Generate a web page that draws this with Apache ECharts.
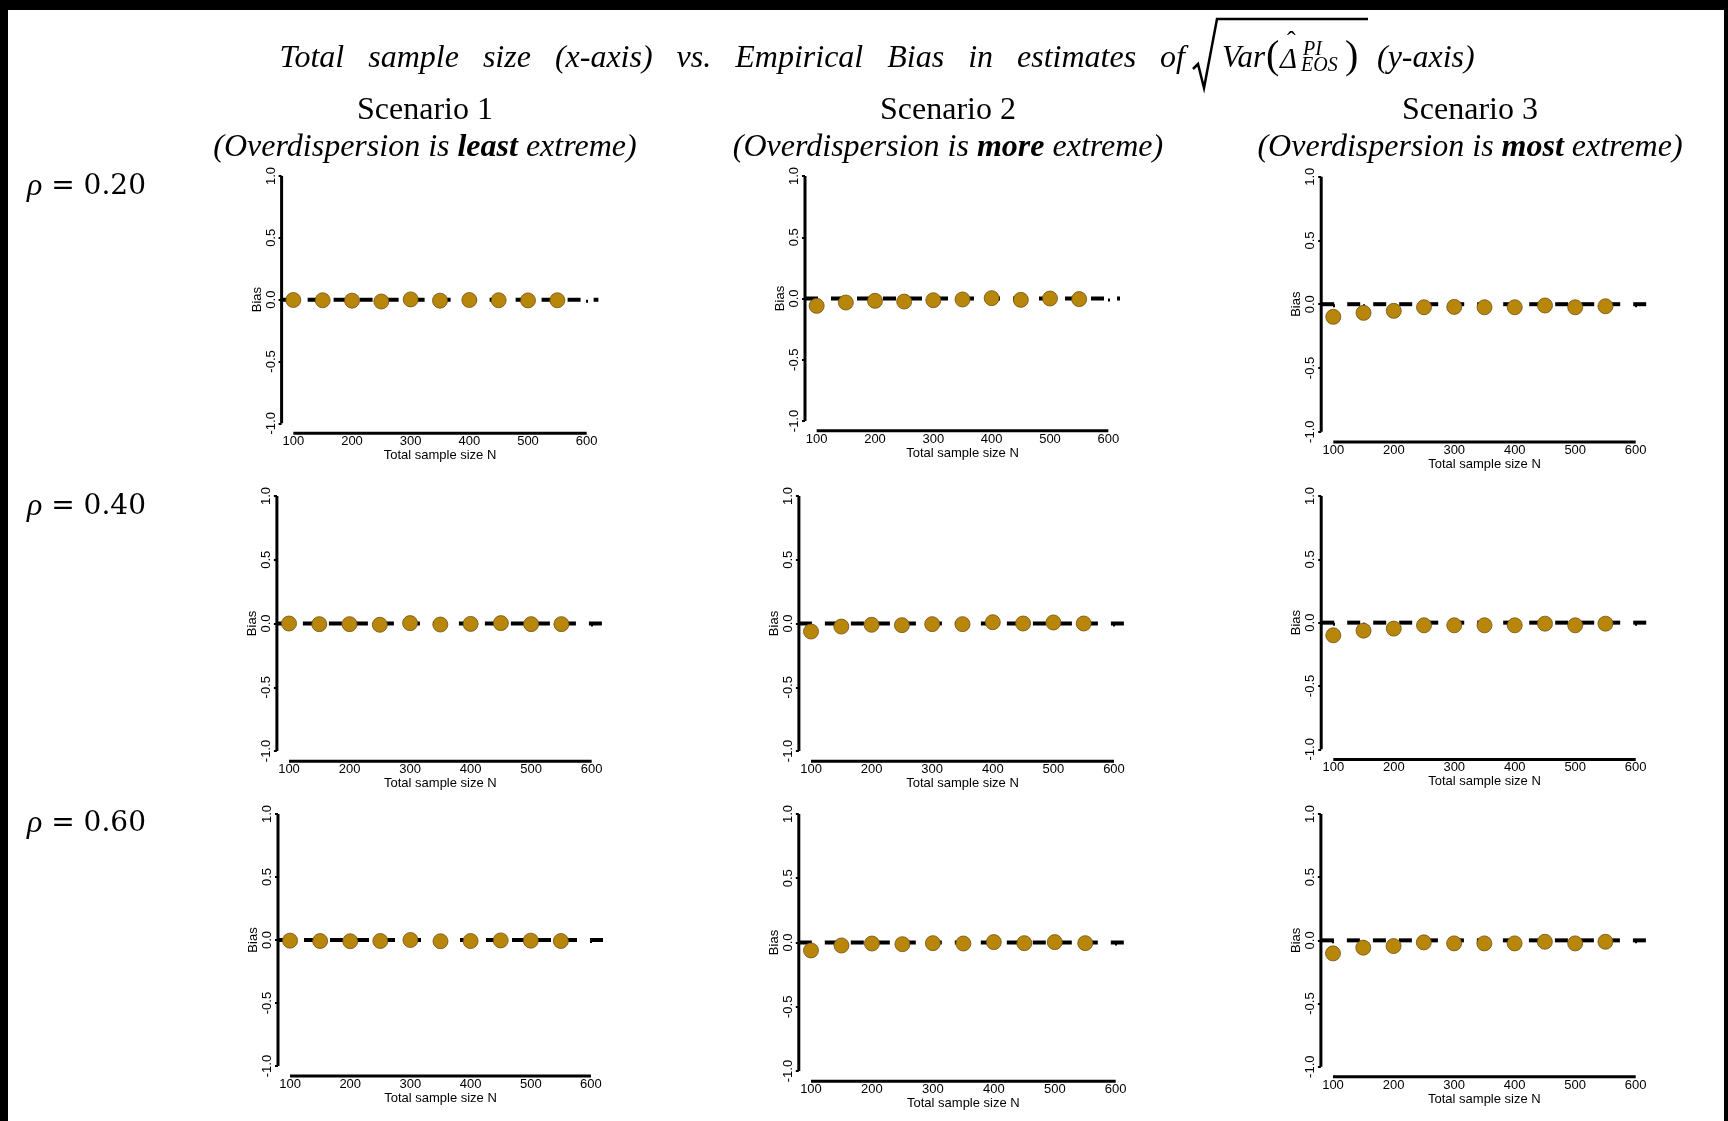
<!DOCTYPE html>
<html>
  <head>
    <meta charset="utf-8" />
    <title>Empirical Bias</title>
    <script src="https://cdn.jsdelivr.net/npm/echarts@6.0.0/dist/echarts.min.js"></script>
    <style>
      html, body { margin: 0; padding: 0; background: #fff; }
      #chart-container { width: 1728px; height: 1121px; }
    </style>
  </head>
  <body>
    <div id="chart-container"></div>
    <script type="text/javascript">
      // data
      const sampleSizes = [100, 150, 200, 250, 300, 350, 400, 450, 500, 550];
      const xTickValues = [100, 150, 200, 250, 300, 350, 400, 450, 500, 550, 600];
      const xLabelValues = [100, 200, 300, 400, 500, 600];
      const yTickValues = [-1, -0.5, 0, 0.5, 1];
      const rhoLabels = ['0.20', '0.40', '0.60'];
      const scenarioNames = ['Scenario 1', 'Scenario 2', 'Scenario 3'];
      const scenarioWords = ['least', 'more', 'most'];

      // rows = rho, columns = scenario
      const biasS1Rho20 = [-0.003, -0.005, -0.008, -0.015, 0.002, -0.008, -0.003, -0.005, -0.006, -0.005];
      const biasS2Rho20 = [-0.06, -0.033, -0.019, -0.025, -0.014, -0.008, 0.003, -0.011, 0.0, -0.005];
      const biasS3Rho20 = [-0.099, -0.068, -0.052, -0.024, -0.021, -0.024, -0.024, -0.01, -0.024, -0.016];
      const biasS1Rho40 = [0.0, -0.005, -0.005, -0.01, 0.003, -0.008, -0.003, 0.003, -0.005, -0.005];
      const biasS2Rho40 = [-0.063, -0.024, -0.01, -0.013, -0.005, -0.005, 0.01, 0.0, 0.008, 0.0];
      const biasS3Rho40 = [-0.1, -0.063, -0.047, -0.021, -0.021, -0.021, -0.021, -0.008, -0.021, -0.008];
      const biasS1Rho60 = [-0.005, -0.008, -0.01, -0.008, 0.0, -0.01, -0.008, -0.003, -0.005, -0.008];
      const biasS2Rho60 = [-0.062, -0.023, -0.008, -0.013, -0.005, -0.008, 0.003, -0.005, 0.003, -0.005];
      const biasS3Rho60 = [-0.103, -0.058, -0.045, -0.016, -0.024, -0.024, -0.024, -0.011, -0.024, -0.011];

      const panelData = [
        biasS1Rho20, biasS2Rho20, biasS3Rho20,
        biasS1Rho40, biasS2Rho40, biasS3Rho40,
        biasS1Rho60, biasS2Rho60, biasS3Rho60
      ];

      // axis extents like R's 4% padding around xlim 100-600 and ylim -1..1
      const xMin = 80, xMax = 620;
      const yMin = -1.08, yMax = 1.08;

      // plot boxes [left, top, width, height]
      const panelBoxes = [
        [281.6, 166.1, 316.8, 267.1], [805.0, 166.2, 315.0, 264.6], [1321.2, 166.5, 326.6, 275.4],
        [276.9, 485.8, 326.9, 275.4], [798.9, 485.8, 327.2, 275.4], [1321.2, 485.9, 326.6, 273.5],
        [278.0, 803.9, 325.0, 272.2], [798.8, 803.7, 329.1, 277.6], [1320.9, 803.9, 326.9, 272.9]
      ];

      const sansFont = 'Liberation Sans';
      const serifFont = 'Liberation Serif';
      const dotColor = '#B8860B';

      const grids = [], xAxes = [], yAxes = [], series = [];
      panelBoxes.forEach((box, i) => {
        grids.push({ left: box[0], top: box[1], width: box[2], height: box[3] });
        xAxes.push({
          gridIndex: i, type: 'value', min: xMin, max: xMax,
          axisLine: { show: false },
          splitLine: { show: false },
          axisTick: { show: true, customValues: xTickValues, length: 3, lineStyle: { color: '#000', width: 2 } },
          axisLabel: { customValues: xLabelValues, margin: 2, fontSize: 13, color: '#000', fontFamily: sansFont },
          name: 'Total sample size N', nameLocation: 'middle', nameGap: 12,
          nameTextStyle: { fontSize: 13, color: '#000', fontFamily: sansFont }
        });
        yAxes.push({
          gridIndex: i, type: 'value', min: yMin, max: yMax,
          axisLine: { show: false },
          splitLine: { show: false },
          axisTick: { show: true, customValues: yTickValues, length: 3, lineStyle: { color: '#000', width: 2 } },
          axisLabel: {
            customValues: yTickValues, rotate: 90, margin: 4, fontSize: 13, color: '#000', fontFamily: sansFont,
            formatter: v => v.toFixed(1)
          },
          name: 'Bias', nameLocation: 'middle', nameGap: 18, nameRotate: 90,
          nameTextStyle: { fontSize: 13, color: '#000', fontFamily: sansFont }
        });
        // dashed reference at 0 (abline h = 0)
        series.push({
          type: 'line', xAxisIndex: i, yAxisIndex: i, z: 2, silent: true, symbol: 'none',
          data: [[xMin, 0], [xMax, 0]],
          lineStyle: { color: '#000', width: 4, type: [13, 13] }
        });
        // R style axis lines, drawn only over the tick range
        series.push({
          type: 'line', xAxisIndex: i, yAxisIndex: i, z: 2, silent: true, symbol: 'none', clip: false,
          data: [[xMin, yTickValues[0]], [xMin, yTickValues[yTickValues.length - 1]]],
          lineStyle: { color: '#000', width: 3 }
        });
        series.push({
          type: 'line', xAxisIndex: i, yAxisIndex: i, z: 2, silent: true, symbol: 'none', clip: false,
          data: [[xTickValues[0], yMin], [xTickValues[xTickValues.length - 1], yMin]],
          lineStyle: { color: '#000', width: 3 }
        });
        series.push({
          type: 'scatter', xAxisIndex: i, yAxisIndex: i, z: 3,
          symbol: 'circle', symbolSize: 15,
          data: sampleSizes.map((n, k) => [n, panelData[i][k]]),
          itemStyle: { color: dotColor, borderColor: '#6e5210', borderWidth: 0.8, opacity: 1 }
        });
      });

      // headings and row labels
      const colCenters = [425, 948, 1470];
      const rowCenters = [187, 507, 824];
      const titleWords = 'Total sample size (x-axis) vs. Empirical Bias in estimates of'.split(' ');
      const ty = 59;
      const graphics = [
        { type: 'rect', shape: { x: 0, y: 0, width: 1728, height: 10 }, style: { fill: '#000' } },
        { type: 'rect', shape: { x: 0, y: 0, width: 8, height: 1121 }, style: { fill: '#000' } },
        { type: 'rect', shape: { x: 1724, y: 0, width: 4, height: 1121 }, style: { fill: '#000' } },
        {
          // the line is justified in the source, so words sit wider apart
          type: 'text', x: 1185, y: ty,
          style: { text: titleWords.join('   '), align: 'right', verticalAlign: 'middle',
                   font: 'italic 32px "' + serifFont + '"', fill: '#000' }
        },
        {
          type: 'polyline', shape: { points: [[1193, 69], [1198, 64], [1204, 88], [1217, 19], [1368, 19]] },
          style: { stroke: '#000', lineWidth: 2.5, fill: null }
        },
        { type: 'text', x: 1222, y: ty, style: { text: 'Var', verticalAlign: 'middle', font: 'italic 31px "' + serifFont + '"', fill: '#000' } },
        { type: 'text', x: 1266, y: ty - 2, style: { text: '(', verticalAlign: 'middle', font: '40px "' + serifFont + '"', fill: '#000' } },
        { type: 'text', x: 1280, y: ty + 1, style: { text: 'Δ', verticalAlign: 'middle', font: 'italic 29px "' + serifFont + '"', fill: '#000' } },
        { type: 'text', x: 1287, y: ty - 17, style: { text: 'ˆ', verticalAlign: 'middle', font: '26px "' + serifFont + '"', fill: '#000' } },
        { type: 'text', x: 1303, y: ty - 9, style: { text: 'PI', verticalAlign: 'middle', font: 'italic 20px "' + serifFont + '"', fill: '#000' } },
        { type: 'text', x: 1301, y: ty + 7, style: { text: 'EOS', verticalAlign: 'middle', font: 'italic 20px "' + serifFont + '"', fill: '#000' } },
        { type: 'text', x: 1345, y: ty - 2, style: { text: ')', verticalAlign: 'middle', font: '40px "' + serifFont + '"', fill: '#000' } },
        { type: 'text', x: 1377, y: ty, style: { text: '(y-axis)', verticalAlign: 'middle', font: 'italic 32px "' + serifFont + '"', fill: '#000' } }
      ];
      scenarioNames.forEach((name, c) => {
        graphics.push({
          type: 'text', x: colCenters[c], y: 111,
          style: { text: name, align: 'center', verticalAlign: 'middle', font: '32px "' + serifFont + '"', fill: '#000' }
        });
        graphics.push({
          type: 'text', x: colCenters[c], y: 148,
          style: {
            text: '{i|(Overdispersion is }{b|' + scenarioWords[c] + '}{i| extreme)}',
            align: 'center', verticalAlign: 'middle', fill: '#000',
            rich: {
              i: { font: 'italic 32px "' + serifFont + '"', fill: '#000' },
              b: { font: 'italic bold 32px "' + serifFont + '"', fill: '#000' }
            }
          }
        });
      });
      rhoLabels.forEach((r, k) => {
        graphics.push({
          type: 'text', x: 27, y: rowCenters[k],
          style: {
            text: '{i|ρ}{n| = ' + r + '}', verticalAlign: 'middle', fill: '#000',
            rich: {
              i: { font: 'italic 32px "' + serifFont + '"', fill: '#000' },
              n: { font: '28px "DejaVu Serif"', fill: '#000' }
            }
          }
        });
      });

      const chart = echarts.init(document.getElementById('chart-container'), null, { renderer: 'canvas' });
      chart.setOption({
        animation: false,
        backgroundColor: '#fff',
        grid: grids,
        xAxis: xAxes,
        yAxis: yAxes,
        series: series,
        graphic: { elements: graphics }
      });
    </script>
  </body>
</html>
